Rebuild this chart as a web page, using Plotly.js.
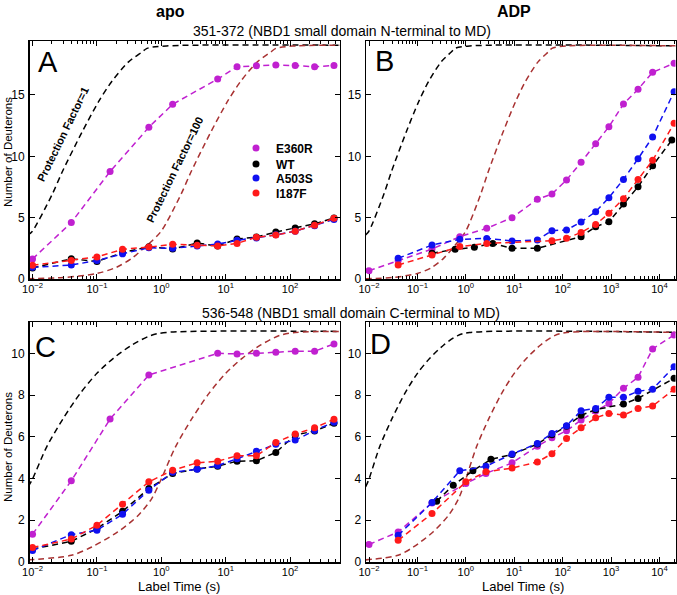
<!DOCTYPE html>
<html>
<head>
<meta charset="utf-8">
<script src="https://cdn.plot.ly/plotly-3.0.1.min.js"></script>
<style>
body { margin: 0; background: white; }
#plotArea { width: 677px; height: 595px; }
</style>
</head>
<body>
<div id="plotArea"></div>
<script>
// peptide 351-372, apo (panel A)
var timesA = [0.01, 0.04, 0.1, 0.25, 0.64, 1.5, 3.6, 7.5, 15, 30, 60, 120, 240, 480];
var e360rTimesA = [0.01, 0.04, 0.16, 0.64, 1.5, 7.5, 15, 30, 60, 120, 240, 480];
var e360rA = [1.63, 4.6, 8.76, 12.37, 14.24, 16.3, 17.3, 17.39, 17.44, 17.4, 17.3, 17.4];
var wtA = [0.9, 1.65, 1.42, 2.15, 2.63, 2.44, 2.93, 2.69, 3.26, 3.42, 3.83, 4.15, 4.5, 4.98];
var a503sA = [0.95, 1.14, 1.5, 2.05, 2.55, 2.5, 2.69, 2.85, 3.15, 3.35, 3.6, 3.9, 4.35, 4.85];
var i187fA = [1.12, 1.5, 1.8, 2.42, 2.6, 2.83, 2.75, 2.7, 2.9, 3.4, 3.58, 3.9, 4.38, 4.95];

// peptide 351-372, ADP (panel B)
var e360rTimesB = [0.01, 0.04, 0.2, 0.75, 2.7, 9, 30, 60, 120, 240, 480, 900, 1800, 3600, 7200, 20000];
var e360rB = [0.68, 1.49, 2.44, 3.45, 4.13, 5.0, 6.5, 6.93, 8.07, 9.51, 11.03, 12.41, 14.26, 15.46, 16.85, 17.58];
var wtTimesB = [0.2, 0.6, 1.5, 3.6, 9, 30, 240, 480, 900, 1800, 3600, 7200, 18000];
var wtB = [2.09, 2.42, 2.58, 2.9, 2.5, 2.5, 3.45, 4.26, 4.67, 6.11, 7.52, 9.23, 11.33];
var a503sTimesB = [0.04, 0.2, 0.75, 2.7, 9, 30, 60, 120, 240, 480, 900, 1800, 3600, 7200, 20000];
var a503sB = [1.69, 2.77, 3.23, 3.31, 3.1, 3.18, 3.94, 4.0, 4.65, 5.49, 6.63, 8.12, 9.8, 11.57, 15.27];
var i187fTimesB = [0.04, 0.2, 0.75, 2.7, 60, 120, 240, 480, 900, 1800, 3600, 7200, 20000];
var i187fB = [1.14, 1.96, 2.64, 2.9, 3.12, 3.32, 3.8, 4.45, 5.35, 6.55, 8.12, 9.67, 12.69];

// peptide 536-548, apo (panel C)
var timesC = [0.01, 0.04, 0.1, 0.25, 0.64, 1.5, 3.6, 7.5, 15, 30, 60, 120, 240, 480];
var e360rTimesC = [0.01, 0.04, 0.16, 0.64, 7.5, 15, 30, 60, 120, 240, 480];
var e360rC = [1.33, 3.89, 6.85, 8.96, 10.0, 9.97, 10.0, 10.05, 10.1, 10.1, 10.45];
var wtC = [0.62, 0.99, 1.6, 2.43, 3.52, 4.24, 4.46, 4.59, 4.83, 4.85, 5.25, 6.08, 6.28, 6.65];
var a503sC = [0.55, 1.31, 1.52, 2.29, 3.44, 4.3, 4.44, 4.62, 4.95, 5.31, 5.64, 5.84, 6.3, 6.7];
var i187fC = [0.69, 1.1, 1.76, 2.77, 3.84, 4.4, 4.75, 4.83, 5.09, 5.09, 5.73, 6.13, 6.43, 6.84];

// peptide 536-548, ADP (panel D)
var e360rTimesD = [0.01, 0.04, 0.2, 1.0, 2.6, 9, 30, 60, 120, 240, 480, 900, 1800, 3600, 7200, 20000];
var e360rD = [0.84, 1.44, 2.83, 3.76, 4.24, 4.75, 5.55, 5.95, 6.29, 6.8, 7.23, 7.6, 8.32, 8.85, 10.21, 10.88];
var wtTimesD = [0.25, 0.55, 1.4, 3.3, 9, 30, 60, 120, 240, 480, 1800, 3600, 20000];
var wtD = [2.91, 3.68, 4.37, 4.92, 5.15, 5.65, 6.1, 6.5, 7.03, 7.3, 7.57, 7.84, 8.8];
var a503sTimesD = [0.04, 0.2, 0.75, 2.6, 9, 30, 60, 120, 240, 480, 900, 1800, 3600, 7200, 20000];
var a503sD = [1.28, 2.85, 4.37, 4.59, 5.17, 5.68, 6.16, 6.53, 7.25, 7.36, 7.89, 7.89, 8.18, 8.28, 9.36];
var i187fTimesD = [0.04, 0.2, 1.0, 2.6, 9, 30, 60, 120, 240, 480, 900, 1800, 3600, 7200, 20000];
var i187fD = [1.04, 2.32, 3.84, 4.32, 4.5, 4.79, 5.19, 5.92, 6.43, 6.91, 7.12, 7.04, 7.35, 7.47, 8.28];

// reference exchange curves, protection factor 1 and 100
var pf1TimesAB = [0.0085, 0.0098, 0.02, 0.029, 0.059, 0.106, 0.17, 0.31, 0.5, 0.6, 1.2, 25000];
var pf1AB = [3.6, 3.85, 6.85, 8.74, 12.0, 14.45, 16.1, 17.7, 18.5, 18.8, 19.0, 19.0];
var pf100TimesAB = [0.0085, 0.03, 0.1, 0.2, 0.35, 0.6, 0.98, 2, 2.9, 5.9, 10.6, 17, 31, 50, 60, 120, 25000];
var pf100AB = [0.02, 0.12, 0.45, 0.95, 1.7, 2.75, 3.85, 6.85, 8.74, 12.0, 14.45, 16.1, 17.7, 18.5, 18.8, 19.0, 19.0];
var pf1TimesCD = [0.0085, 0.0098, 0.0166, 0.03, 0.055, 0.1, 0.18, 0.35, 0.68, 1.2, 25000];
var pf1CD = [3.6, 3.92, 5.52, 6.88, 8.08, 9.04, 9.76, 10.4, 10.85, 11.0, 11.0];
var pf100TimesCD = [0.0085, 0.04, 0.083, 0.21, 0.44, 0.71, 0.98, 1.66, 3.0, 5.5, 10, 18, 35, 68, 120, 25000];
var pf100CD = [0.1, 0.32, 0.72, 1.44, 2.24, 3.04, 3.92, 5.52, 6.88, 8.08, 9.04, 9.76, 10.4, 10.85, 11.0, 11.0];

// tick decades
var decadesApo = [-2, -1, 0, 1, 2];
var decadesADP = [-2, -1, 0, 1, 2, 3, 4];

var names = ["E360R", "WT", "A503S", "I187F"];
var colors = ["#c020d0", "black", "#1010f0", "#ff1a1a"];
var legendRows = [148, 164, 178, 193];

var W = 677, H = 595;
function px(x) { return x / W; }
function py(y) { return 1 - y / H; }

function series(x, y, color, ax) {
    return {
        x: x, y: y, xaxis: "x" + ax, yaxis: "y" + ax,
        type: "scatter", mode: "lines+markers", showlegend: false,
        line: {color: color, width: 1.5, dash: "6px,4px"},
        marker: {color: color, size: 7}
    };
}

function curve(x, y, color, ax) {
    return {
        x: x, y: y, xaxis: "x" + ax, yaxis: "y" + ax,
        type: "scatter", mode: "lines", showlegend: false,
        line: {color: color, width: 1.5, dash: "6px,4px", shape: "spline", smoothing: 0.8}
    };
}

var brown = "#a83232";
var data = [
    curve(pf1TimesAB, pf1AB, "black", ""), curve(pf100TimesAB, pf100AB, brown, ""),
    curve(pf1TimesAB, pf1AB, "black", "2"), curve(pf100TimesAB, pf100AB, brown, "2"),
    curve(pf1TimesCD, pf1CD, "black", "3"), curve(pf100TimesCD, pf100CD, brown, "3"),
    curve(pf1TimesCD, pf1CD, "black", "4"), curve(pf100TimesCD, pf100CD, brown, "4"),

    series(e360rTimesA, e360rA, colors[0], ""),
    series(timesA, wtA, colors[1], ""),
    series(timesA, a503sA, colors[2], ""),
    series(timesA, i187fA, colors[3], ""),

    series(e360rTimesB, e360rB, colors[0], "2"),
    series(wtTimesB, wtB, colors[1], "2"),
    series(a503sTimesB, a503sB, colors[2], "2"),
    series(i187fTimesB, i187fB, colors[3], "2"),

    series(e360rTimesC, e360rC, colors[0], "3"),
    series(timesC, wtC, colors[1], "3"),
    series(timesC, a503sC, colors[2], "3"),
    series(timesC, i187fC, colors[3], "3"),

    series(e360rTimesD, e360rD, colors[0], "4"),
    series(wtTimesD, wtD, colors[1], "4"),
    series(a503sTimesD, a503sD, colors[2], "4"),
    series(i187fTimesD, i187fD, colors[3], "4")
];

// legend-only entries (dot without line), one small legend per row
var legendIds = ["legend", "legend2", "legend3", "legend4"];
for (var i = 0; i < names.length; i++) {
    data.push({
        x: [null], y: [null], type: "scatter", mode: "markers", name: names[i],
        marker: {color: colors[i], size: 7}, showlegend: true, legend: legendIds[i]
    });
}

function logTicks(decades) {
    var vals = [], text = [], minor = [];
    decades.forEach(function (e) {
        vals.push(Math.pow(10, e));
        text.push("10<sup>" + (e < 0 ? "\u2212" + (-e) : e) + "</sup>");
    });
    for (var e = decades[0] - 1; e <= decades[decades.length - 1]; e++) {
        for (var m = 2; m <= 9; m++) minor.push(m * Math.pow(10, e));
    }
    return {vals: vals, text: text, minor: minor};
}

function xax(domain, range, anchor, decades) {
    var t = logTicks(decades);
    return {
        type: "log", domain: domain, range: range, anchor: anchor,
        tickmode: "array", tickvals: t.vals, ticktext: t.text,
        showline: true, linecolor: "black", linewidth: 1.5, mirror: "allticks",
        ticks: "inside", ticklen: 5, tickcolor: "black", ticklabelstandoff: -1,
        minor: {tickmode: "array", tickvals: t.minor, ticks: "inside", ticklen: 3, tickcolor: "black"},
        showgrid: false, zeroline: false,
        tickfont: {size: 11, color: "black"}
    };
}

function yax(domain, range, dtick, anchor) {
    return {
        domain: domain, range: range, dtick: dtick, anchor: anchor,
        showline: true, linecolor: "black", linewidth: 1.5, mirror: "allticks",
        ticks: "inside", ticklen: 5, tickcolor: "black", ticklabelstandoff: 1,
        showgrid: false, zeroline: false,
        tickfont: {size: 12, color: "black"}
    };
}

var leftDom = [px(29.5), px(339.5)];
var rightDom = [px(366), px(675.5)];
var topDom = [py(279), py(41)];
var botDom = [py(562), py(322)];

function note(text, x, y, size, extra) {
    var a = {
        text: text, xref: "paper", yref: "paper", x: px(x), y: py(y),
        xanchor: "center", yanchor: "middle", showarrow: false,
        font: {size: size, color: "black"}
    };
    for (var k in extra) a[k] = extra[k];
    return a;
}

function legendBox(row) {
    return {
        x: px(236), y: py(row), xanchor: "left", yanchor: "middle",
        bgcolor: "rgba(0,0,0,0)", borderwidth: 0,
        font: {size: 12, color: "black", weight: "bold"}
    };
}

var layout = {
    width: W, height: H,
    margin: {l: 0, r: 0, t: 0, b: 0},
    paper_bgcolor: "white", plot_bgcolor: "white",
    font: {family: "Liberation Sans, Arial, sans-serif", color: "black"},
    xaxis: xax(leftDom, [-2.047, 2.767], "y", decadesApo),
    yaxis: yax(topDom, [0, 19.4], 5, "x"),
    xaxis2: xax(rightDom, [-2.062, 4.33], "y2", decadesADP),
    yaxis2: yax(topDom, [0, 19.4], 5, "x2"),
    xaxis3: xax(leftDom, [-2.047, 2.767], "y3", decadesApo),
    yaxis3: yax(botDom, [0, 11.5], 2, "x3"),
    xaxis4: xax(rightDom, [-2.062, 4.33], "y4", decadesADP),
    yaxis4: yax(botDom, [0, 11.5], 2, "x4"),
    showlegend: true,
    legend: legendBox(legendRows[0]),
    legend2: legendBox(legendRows[1]),
    legend3: legendBox(legendRows[2]),
    legend4: legendBox(legendRows[3]),
    annotations: [
        note("<b>apo</b>", 170, 11, 16),
        note("<b>ADP</b>", 514, 11, 16),
        note("351-372 (NBD1 small domain N-terminal to MD)", 341.5, 31, 14),
        note("536-548 (NBD1 small domain C-terminal to MD)", 351, 313, 14),
        note("Number of Deuterons", 8, 152, 11.5, {textangle: -90}),
        note("Number of Deuterons", 8, 447, 11.5, {textangle: -90}),
        note("Label Time (s)", 178.5, 586, 13),
        note("Label Time (s)", 523, 586, 13),
        note("A", 48, 62, 29),
        note("B", 384, 61, 29),
        note("C", 45, 347, 29),
        note("D", 381, 344, 29),
        note("<b>Protection Factor=1</b>", 63, 134, 11, {textangle: -64}),
        note("<b>Protection Factor=100</b>", 174.5, 170, 11, {textangle: -64})
    ]
};

Plotly.newPlot("plotArea", data, layout, {staticPlot: true});
</script>
</body>
</html>
